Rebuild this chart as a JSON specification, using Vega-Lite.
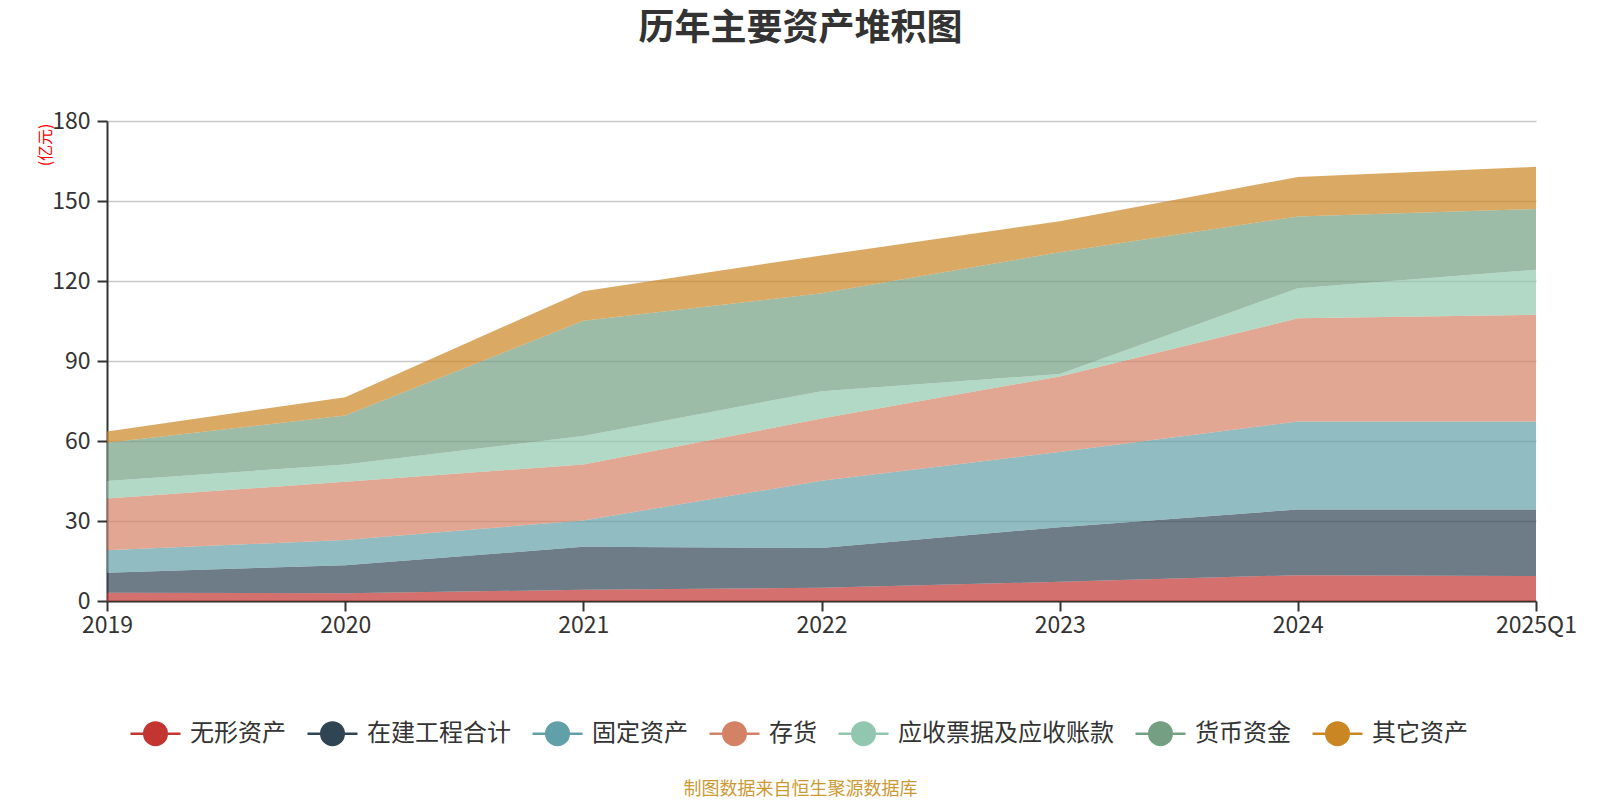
{
  "$schema": "https://vega.github.io/schema/vega-lite/v6.json",
  "description": "历年主要资产堆积图",
  "autosize": "none",
  "width": 1429,
  "height": 480,
  "padding": {"left": 107, "top": 121, "right": 64, "bottom": 199},
  "background": "white",
  "config": {"view": {"stroke": null}},
  "title": {
    "text": "历年主要资产堆积图",
    "font": "Noto Sans CJK SC",
    "fontSize": 36,
    "fontWeight": "bold",
    "color": "#333333",
    "anchor": "middle",
    "frame": "group",
    "dx": -21,
    "offset": 62
  },
  "data": {
    "values": [
      {"year": "2019", "item": "无形资产", "value": 3.1},
      {"year": "2019", "item": "在建工程合计", "value": 7.5},
      {"year": "2019", "item": "固定资产", "value": 8.4},
      {"year": "2019", "item": "存货", "value": 19.4},
      {"year": "2019", "item": "应收票据及应收账款", "value": 6.6},
      {"year": "2019", "item": "货币资金", "value": 14.3},
      {"year": "2019", "item": "其它资产", "value": 4.3},
      {"year": "2020", "item": "无形资产", "value": 2.9},
      {"year": "2020", "item": "在建工程合计", "value": 10.5},
      {"year": "2020", "item": "固定资产", "value": 9.5},
      {"year": "2020", "item": "存货", "value": 21.8},
      {"year": "2020", "item": "应收票据及应收账款", "value": 6.5},
      {"year": "2020", "item": "货币资金", "value": 18.4},
      {"year": "2020", "item": "其它资产", "value": 6.8},
      {"year": "2021", "item": "无形资产", "value": 4.2},
      {"year": "2021", "item": "在建工程合计", "value": 16.1},
      {"year": "2021", "item": "固定资产", "value": 9.9},
      {"year": "2021", "item": "存货", "value": 21.0},
      {"year": "2021", "item": "应收票据及应收账款", "value": 10.7},
      {"year": "2021", "item": "货币资金", "value": 43.2},
      {"year": "2021", "item": "其它资产", "value": 11.1},
      {"year": "2022", "item": "无形资产", "value": 5.0},
      {"year": "2022", "item": "在建工程合计", "value": 14.9},
      {"year": "2022", "item": "固定资产", "value": 25.2},
      {"year": "2022", "item": "存货", "value": 23.3},
      {"year": "2022", "item": "应收票据及应收账款", "value": 10.3},
      {"year": "2022", "item": "货币资金", "value": 36.7},
      {"year": "2022", "item": "其它资产", "value": 14.2},
      {"year": "2023", "item": "无形资产", "value": 7.2},
      {"year": "2023", "item": "在建工程合计", "value": 20.5},
      {"year": "2023", "item": "固定资产", "value": 28.2},
      {"year": "2023", "item": "存货", "value": 28.3},
      {"year": "2023", "item": "应收票据及应收账款", "value": 0.9},
      {"year": "2023", "item": "货币资金", "value": 45.7},
      {"year": "2023", "item": "其它资产", "value": 11.6},
      {"year": "2024", "item": "无形资产", "value": 9.7},
      {"year": "2024", "item": "在建工程合计", "value": 24.6},
      {"year": "2024", "item": "固定资产", "value": 33.0},
      {"year": "2024", "item": "存货", "value": 38.7},
      {"year": "2024", "item": "应收票据及应收账款", "value": 11.3},
      {"year": "2024", "item": "货币资金", "value": 26.9},
      {"year": "2024", "item": "其它资产", "value": 14.8},
      {"year": "2025Q1", "item": "无形资产", "value": 9.4},
      {"year": "2025Q1", "item": "在建工程合计", "value": 24.9},
      {"year": "2025Q1", "item": "固定资产", "value": 33.0},
      {"year": "2025Q1", "item": "存货", "value": 40.0},
      {"year": "2025Q1", "item": "应收票据及应收账款", "value": 16.9},
      {"year": "2025Q1", "item": "货币资金", "value": 22.8},
      {"year": "2025Q1", "item": "其它资产", "value": 15.8}
    ]
  },
  "transform": [
    {"calculate": "indexof(['无形资产', '在建工程合计', '固定资产', '存货', '应收票据及应收账款', '货币资金', '其它资产'], datum.item)", "as": "stackOrder"}
  ],
  "mark": {"type": "area", "fillOpacity": 0.7, "strokeWidth": 0},
  "encoding": {
    "x": {
      "field": "year",
      "type": "ordinal",
      "scale": {"type": "point", "padding": 0},
      "axis": {
        "title": "制图数据来自恒生聚源数据库",
        "titleFont": "Noto Sans CJK SC",
        "titleFontSize": 18,
        "titleFontWeight": "normal",
        "titleColor": "#cc9a33",
        "titleX": 693,
        "titleY": 188,
        "titleBaseline": "middle",
        "labelAngle": 0,
        "labelFont": "Noto Sans CJK SC",
        "labelFontSize": 23,
        "labelColor": "#333333",
        "labelPadding": 3,
        "tickSize": 10,
        "tickWidth": 2,
        "tickColor": "#333333",
        "domainColor": "#333333",
        "domainWidth": 2,
        "grid": false
      }
    },
    "y": {
      "field": "value",
      "type": "quantitative",
      "stack": "zero",
      "scale": {"domain": [0, 180], "nice": false},
      "axis": {
        "values": [0, 30, 60, 90, 120, 150, 180],
        "title": "(亿元)",
        "titleFont": "Noto Sans CJK SC",
        "titleFontSize": 16,
        "titleFontWeight": "normal",
        "titleColor": "#ff0000",
        "titleX": -62,
        "titleY": 2,
        "titleAlign": "right",
        "titleBaseline": "middle",
        "titleAngle": -90,
        "labelFont": "Noto Sans CJK SC",
        "labelFontSize": 23,
        "labelColor": "#333333",
        "labelPadding": 7,
        "tickSize": 10,
        "tickWidth": 2,
        "tickColor": "#333333",
        "domainColor": "#333333",
        "domainWidth": 2,
        "gridColor": "#c8c8c8",
        "gridWidth": 1.5
      }
    },
    "order": {"field": "stackOrder", "type": "quantitative", "sort": "ascending"},
    "color": {
      "field": "item",
      "type": "nominal",
      "scale": {
        "domain": ["无形资产", "在建工程合计", "固定资产", "存货", "应收票据及应收账款", "货币资金", "其它资产"],
        "range": ["#c23531", "#2f4554", "#61a0a8", "#d48265", "#91c7ae", "#749f83", "#ca8622"]
      },
      "legend": {
        "title": null,
        "orient": "none",
        "direction": "horizontal",
        "legendX": 22,
        "legendY": 586,
        "symbolType": "M-1,0L1,0M-0.45,0A0.45,0.45 0 1,0 0.45,0A0.45,0.45 0 1,0 -0.45,0Z",
        "symbolSize": 2500,
        "symbolStrokeWidth": 2.5,
        "symbolOpacity": 1,
        "labelFont": "Noto Sans CJK SC",
        "labelFontSize": 24,
        "labelColor": "#333333",
        "labelLimit": 0,
        "labelOffset": 8,
        "columnPadding": 16,
        "encode": {
          "symbols": {
            "update": {
              "fill": {"signal": "scale('color', datum.value)"},
              "stroke": {"signal": "scale('color', datum.value)"},
              "fillOpacity": {"value": 1},
              "strokeOpacity": {"value": 1}
            }
          }
        }
      }
    },
    "tooltip": [
      {"field": "year", "type": "ordinal"},
      {"field": "item", "type": "nominal"},
      {"field": "value", "type": "quantitative"}
    ]
  }
}
